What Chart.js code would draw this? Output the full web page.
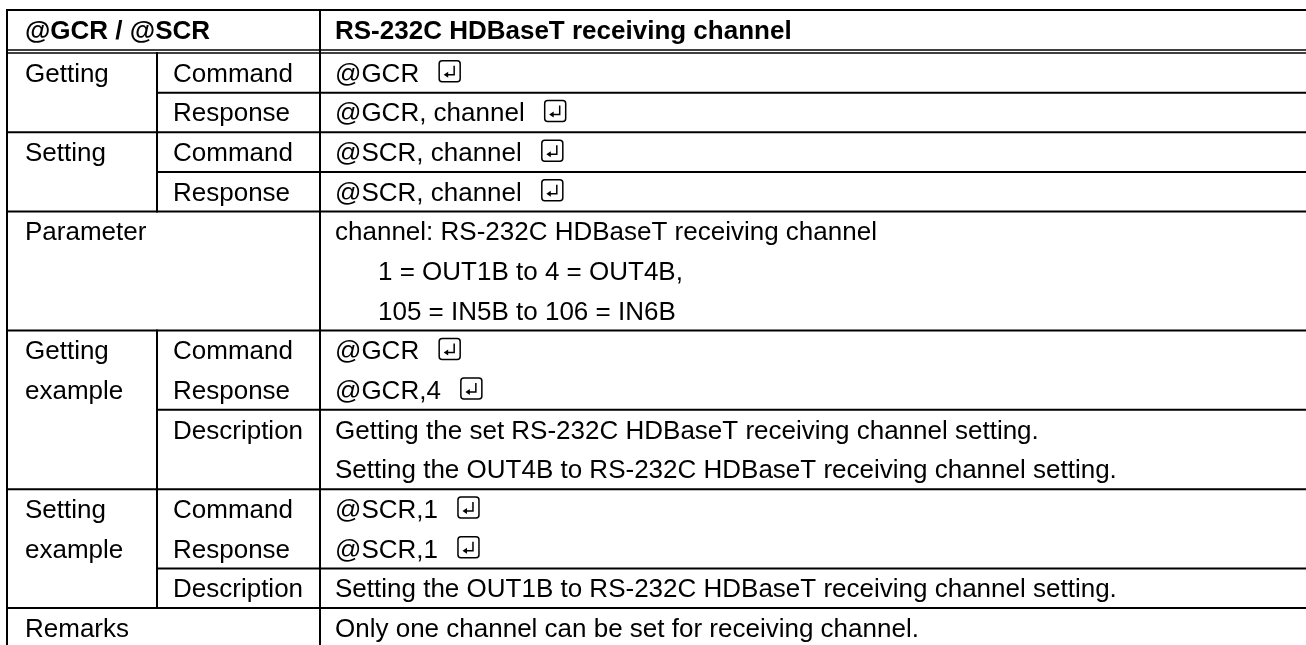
<!DOCTYPE html>
<html lang="en">
<head>
    <meta charset="UTF-8">
    <title>@GCR / @SCR - RS-232C HDBaseT receiving channel</title>
    <script src="https://cdn.jsdelivr.net/npm/chart.js"></script>
    <style>
        html, body { margin: 0; padding: 0; background: #fff; }
        .wrap { position: relative; width: 1306px; height: 645px; }
    </style>
</head>
<body>
    <div class="wrap"><canvas id="cmdTable"></canvas></div>

    <script>
        // Table content
        const headerLabels = ['@GCR / @SCR', 'RS-232C HDBaseT receiving channel'];

        const groupLabels = [['Getting'], ['Setting'], ['Parameter'], ['Getting', 'example'], ['Setting', 'example'], ['Remarks']];
        const groupLines = [2, 2, 3, 4, 3, 1];
        const groupSpansCols = [false, false, true, false, false, true];

        const subLabels = ['Command', 'Response', 'Command', 'Response', '', '', '',
                           'Command', 'Response', 'Description', '', 'Command', 'Response', 'Description', ''];
        const valueTexts = [
            '@GCR', '@GCR, channel', '@SCR, channel', '@SCR, channel',
            'channel: RS-232C HDBaseT receiving channel',
            '1 = OUT1B to 4 = OUT4B,',
            '105 = IN5B to 106 = IN6B',
            '@GCR', '@GCR,4',
            'Getting the set RS-232C HDBaseT receiving channel setting.',
            'Setting the OUT4B to RS-232C HDBaseT receiving channel setting.',
            '@SCR,1', '@SCR,1',
            'Setting the OUT1B to RS-232C HDBaseT receiving channel setting.',
            'Only one channel can be set for receiving channel.'
        ];
        const enterMarks = [true, true, true, true, false, false, false, true, true, false, false, true, true, false, false];
        const indented   = [false, false, false, false, false, true, true, false, false, false, false, false, false, false, false];
        // rule drawn on top of each line (sub rows that share a cell have none)
        const ruleAbove  = [true, true, true, true, true, false, false, true, false, true, false, true, false, true, true];

        // Layout
        const xEdges = [7, 157, 320, 1306];
        const headerTop = -0.085, headerBottom = 0.925;
        const padX = 17, indentX = 43, enterGap = 20;
        const fontFam = '"Liberation Sans", Arial, sans-serif';

        // group start lines
        const groupStart = [];
        groupLines.reduce((acc, n) => { groupStart.push(acc); return acc + n; }, 0);
        const totalLines = groupLines.reduce((a, b) => a + b, 0);

        // build rule segments as line datasets
        const rules = [];
        function rule(x1, y1, x2, y2, w) {
            rules.push({
                data: [{x: x1, y: y1}, {x: x2, y: y2}],
                borderColor: '#000', borderWidth: w || 2,
                pointRadius: 0, fill: false, tension: 0, borderCapStyle: 'square'
            });
        }
        const xEnd = xEdges[xEdges.length - 1];
        rule(xEdges[0], headerTop, xEnd, headerTop);
        rule(xEdges[0], headerBottom, xEnd, headerBottom, 1.6);
        rule(xEdges[0], 1, xEnd, 1, 1.6);
        ruleAbove.forEach((r, i) => {
            if (!r || i === 0) return;
            const full = groupStart.includes(i);
            rule(full ? xEdges[0] : xEdges[1], i + 1, xEnd, i + 1);
        });
        // verticals
        rule(xEdges[0], headerTop, xEdges[0], totalLines + 1);
        rule(xEdges[2], headerTop, xEdges[2], totalLines + 1);
        groupLines.forEach((n, g) => {
            if (groupSpansCols[g]) return;
            rule(xEdges[1], groupStart[g] + 1, xEdges[1], groupStart[g] + n + 1);
        });

        function drawEnter(c, x, yc) {
            const w = 21, h = 21, r = 3;
            const x0 = x, y0 = yc - 12;
            c.save();
            c.lineWidth = 1.5;
            c.strokeStyle = '#000';
            c.beginPath();
            c.moveTo(x0 + r, y0);
            c.arcTo(x0 + w, y0, x0 + w, y0 + h, r);
            c.arcTo(x0 + w, y0 + h, x0, y0 + h, r);
            c.arcTo(x0, y0 + h, x0, y0, r);
            c.arcTo(x0, y0, x0 + w, y0, r);
            c.closePath();
            c.stroke();
            c.beginPath();
            c.moveTo(x0 + 15, y0 + 5);
            c.lineTo(x0 + 15, y0 + 14);
            c.lineTo(x0 + 8, y0 + 14);
            c.stroke();
            c.beginPath();
            c.moveTo(x0 + 4.5, y0 + 14);
            c.lineTo(x0 + 9, y0 + 11);
            c.lineTo(x0 + 9, y0 + 17);
            c.closePath();
            c.fillStyle = '#000';
            c.fill();
            c.restore();
        }

        const tableText = {
            id: 'tableText',
            afterDatasetsDraw(chart) {
                const c = chart.ctx, xs = chart.scales.x, ys = chart.scales.y;
                const mid = s => ys.getPixelForValue(s + 0.5) + 9;
                c.save();
                c.fillStyle = '#000';
                c.textBaseline = 'alphabetic';
                c.textAlign = 'left';

                // header
                c.font = 'bold 26px ' + fontFam;
                const hy = ys.getPixelForValue((headerTop + headerBottom) / 2) + 9;
                c.fillText(headerLabels[0], xs.getPixelForValue(xEdges[0] + padX + 1), hy);
                c.fillText(headerLabels[1], xs.getPixelForValue(xEdges[2] + padX - 2), hy);

                c.font = '26px ' + fontFam;
                groupLabels.forEach((lab, g) => {
                    lab.forEach((t, k) => c.fillText(t, xs.getPixelForValue(xEdges[0] + padX + 1), mid(groupStart[g] + k + 1)));
                });
                subLabels.forEach((t, i) => {
                    if (t) c.fillText(t, xs.getPixelForValue(xEdges[1] + padX - 1), mid(i + 1));
                });
                valueTexts.forEach((t, i) => {
                    const x = xs.getPixelForValue(xEdges[2] + padX - 2 + (indented[i] ? indentX : 0));
                    const y = mid(i + 1);
                    c.fillText(t, x, y);
                    if (enterMarks[i]) drawEnter(c, x + c.measureText(t).width + enterGap, y - 9);
                });
                c.restore();
            }
        };

        new Chart(document.getElementById('cmdTable'), {
            type: 'line',
            data: { datasets: rules },
            options: {
                responsive: true,
                maintainAspectRatio: false,
                animation: false,
                events: [],
                layout: { padding: 0 },
                plugins: { legend: { display: false }, tooltip: { enabled: false } },
                scales: {
                    x: { type: 'linear', display: false, min: 0, max: 1306 },
                    y: { type: 'linear', display: false, min: -0.3367, max: 15.93, reverse: true }
                }
            },
            plugins: [tableText]
        });
    </script>
</body>
</html>
